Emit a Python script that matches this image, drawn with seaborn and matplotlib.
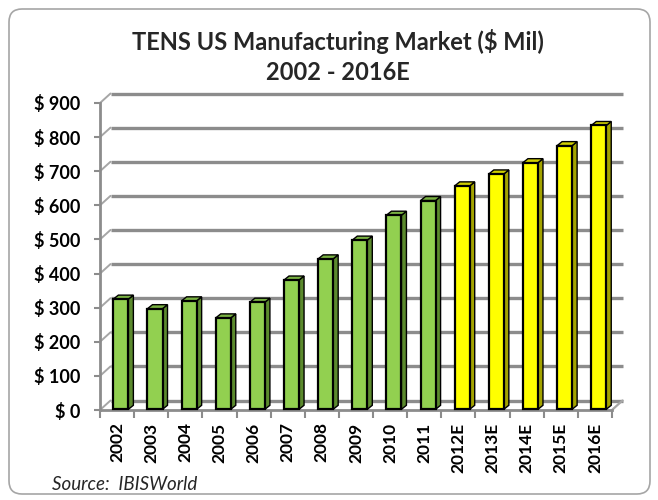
import numpy as np
import pandas as pd
import seaborn as sns
import matplotlib
matplotlib.use("Agg")
import matplotlib.pyplot as plt
from matplotlib.patches import Polygon, FancyBboxPatch
import matplotlib.transforms as mtransforms

# ---- data ----
years = ["2002", "2003", "2004", "2005", "2006", "2007", "2008", "2009",
         "2010", "2011", "2012E", "2013E", "2014E", "2015E", "2016E"]
values = [323, 295, 318, 268, 314, 379, 441, 496, 569, 612, 655, 690, 723, 773, 832]
kinds = ["Actual"] * 10 + ["Estimate"] * 5
yticks = [0, 100, 200, 300, 400, 500, 600, 700, 800, 900]
ytick_labels = ["$ " + str(v) for v in yticks]

front_colors = {"Actual": "#92D050", "Estimate": "#FFFF00"}
side_colors = {"Actual": "#5B8A2D", "Estimate": "#A3A300"}
top_colors = {"Actual": "#79B142", "Estimate": "#CFCF00"}

sns.set_theme(style="white")
plt.rcParams['font.family'] = ['Lato', 'DejaVu Sans']

W, H, DPI = 6.58, 5.0, 100
fig = plt.figure(figsize=(W, H), dpi=DPI)

# rounded border
border = FancyBboxPatch((0.09, 0.06), 6.41, 4.85,
                        boxstyle="round,pad=0,rounding_size=0.13",
                        transform=fig.dpi_scale_trans, facecolor="none",
                        edgecolor="#A6A6A6", linewidth=1.2, zorder=-5)
fig.patches.append(border)

ax_left, ax_right, ax_bot_px, ax_top_px = 100, 612, 410, 103
ax_w = ax_right - ax_left
ax_h = ax_bot_px - ax_top_px
ax = fig.add_axes([ax_left / 658, (500 - ax_bot_px) / 500, ax_w / 658, ax_h / 500])
ax.set_facecolor("none")

df = pd.DataFrame({"year": years, "value": values, "kind": kinds})
sns.barplot(data=df, x="year", y="value", hue="kind", palette=front_colors,
            saturation=1, dodge=False, width=0.44, edgecolor="black",
            linewidth=1.6, legend=False, ax=ax, zorder=4)

n = len(years)
ax.set_xlim(-0.5, n - 0.5)
ax.set_ylim(0, 900)

px_x = ax_w / n               # pixels per x unit
px_y = ax_h / 900.0           # pixels per y unit

# back wall offsets
OX, OY = 10.5 / px_x, 9.5 / px_y
grid_kw = dict(color="#8C8C8C", lw=2.4, clip_on=False, zorder=1,
               solid_capstyle="butt")
for v in yticks:
    ax.plot([-0.5 + OX, n - 0.5 + OX], [v + OY, v + OY], **grid_kw)
    ax.plot([-0.5, -0.5 + OX], [v, v + OY], color="#A6A6A6", lw=1.4,
            clip_on=False, zorder=1)
ax.plot([n - 0.5, n - 0.5 + OX], [0, OY], color="#A6A6A6",
        lw=1.6, clip_on=False, zorder=1)

# 3D faces for bars
shift = mtransforms.ScaledTranslation(3.8 / DPI, 0.7 / DPI, fig.dpi_scale_trans)
dx, dy = 5 / px_x, 4 / px_y
for patch, kind in zip(ax.patches, kinds):
    x0 = patch.get_x()
    x1 = x0 + patch.get_width()
    h = patch.get_height()
    patch.set_transform(ax.transData + shift)
    side = Polygon([(x1, 0), (x1 + dx, dy), (x1 + dx, h + dy), (x1, h)],
                   closed=True, facecolor=side_colors[kind], edgecolor="black",
                   lw=1.0, transform=ax.transData + shift, zorder=3)
    top = Polygon([(x0, h), (x1, h), (x1 + dx, h + dy), (x0 + dx, h + dy)],
                  closed=True, facecolor=top_colors[kind], edgecolor="black",
                  lw=1.0, transform=ax.transData + shift, zorder=3)
    ax.add_patch(side)
    ax.add_patch(top)
    patch.set_clip_on(False)
    side.set_clip_on(False)
    top.set_clip_on(False)

# spines / ticks
for s in ["top", "right"]:
    ax.spines[s].set_visible(False)
for s in ["left", "bottom"]:
    ax.spines[s].set_color("#8C8C8C")
    ax.spines[s].set_linewidth(2.0)
    ax.spines[s].set_zorder(2)

ax.set_yticks(yticks)
ax.set_yticklabels(ytick_labels, fontsize=13, fontweight="bold", color="black")
ax.tick_params(axis="y", which="major", left=True, length=4, width=1.5,
               color="#8C8C8C", pad=10)

ax.set_xticks(range(n))
ax.set_xticklabels(years, rotation=90, fontsize=12.5, fontweight="bold",
                   color="black")
ax.set_xticks(np.arange(-0.5, n, 1.0), minor=True)
ax.tick_params(axis="x", which="major", bottom=False, length=0, pad=9)
ax.tick_params(axis="x", which="minor", bottom=True, length=6, width=1.5,
               color="#8C8C8C")
ax.set_xlabel("")
ax.set_ylabel("")
ax.grid(False)

fig.text(338 / 658, 1 - 41 / 500, "TENS US Manufacturing Market ($ Mil)",
         ha="center", va="center", fontsize=17, fontweight="bold")
fig.text(338 / 658, 1 - 72 / 500, "2002 - 2016E",
         ha="center", va="center", fontsize=17, fontweight="bold")
fig.text(52 / 658, 1 - 484 / 500, "Source:  IBISWorld", ha="left",
         va="center", fontsize=13.5, style="italic")

fig.savefig("out.png", dpi=DPI)
